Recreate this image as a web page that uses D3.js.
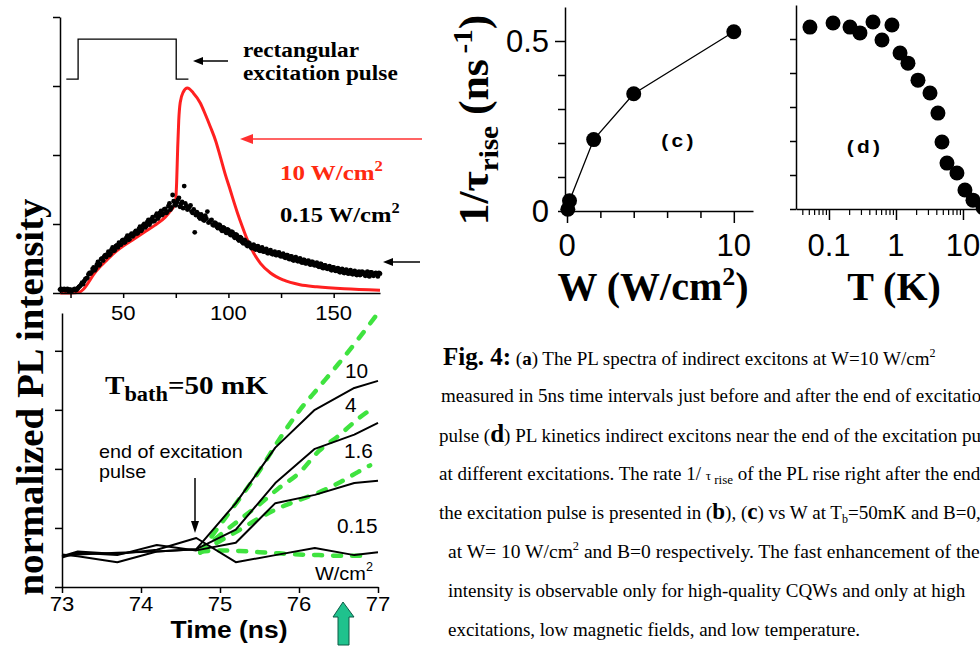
<!DOCTYPE html>
<html><head><meta charset="utf-8">
<script src="https://cdn.jsdelivr.net/npm/d3@7"></script>
<style>body{margin:0;background:#fff}svg{display:block}</style>
</head><body><svg id="chart" width="980" height="650"></svg>
<script>
// ---------- data ----------
// (a) rectangular excitation pulse
const pulseTime  = [23, 28.6, 28.6, 75.2, 75.2, 81];
const pulseLevel = [3.1, 3.1, 3.68, 3.68, 3.1, 3.1];
// (a) 10 W/cm2 PL trace (red)
const redTime = [20, 25, 29, 31, 33, 36, 39, 42, 45, 50, 55, 60, 65, 70, 73, 74.8, 75.4, 75.9, 76.4, 77.1, 78.5, 80.5, 83.3, 86.7, 89, 91.4, 94, 96.2, 98.5, 100.9, 102.6, 104.3, 106.5, 109, 112, 115.2, 120, 126, 134, 142, 155, 172];
const redPL   = [0.0, 0.0, 0.01, 0.05, 0.13, 0.27, 0.38, 0.47, 0.56, 0.68, 0.78, 0.88, 0.98, 1.1, 1.21, 1.3, 1.6, 2.1, 2.5, 2.76, 2.91, 2.97, 2.9, 2.75, 2.59, 2.41, 2.2, 1.97, 1.72, 1.49, 1.32, 1.16, 0.97, 0.77, 0.58, 0.43, 0.29, 0.19, 0.12, 0.09, 0.06, 0.04];
// (a) 0.15 W/cm2 PL trace (black dots), two interleaved read-outs
const dotTime = [20,21,22,23,24,25,26,27,28,29,30,31,32,33,34,35,36,37,38,39,40,41,42,43,44,45,46,47,48,49,50,51,52,53,54,55,56,57,58,59,60,61,62,63,64,65,66,67,68,69,70,71,72,73,74,75,76,77,78,79,80,81,82,83,84,85,86,87,88,89,90,91,92,93,94,95,96,97,98,99,100,101,102,103,104,105,106,107,108,109,110,111,112,113,114,115,116,117,118,119,120,121,122,123,124,125,126,127,128,129,130,131,132,133,134,135,136,137,138,139,140,141,142,143,144,145,146,147,148,149,150,151,152,153,154,155,156,157,158,159,160,161,162,163,164,165,166,167,168,169,170,171,172];
const dotPL = [0.05,0.04,0.06,0.05,0.03,0.05,0.04,0.06,0.05,0.09,0.12,0.13,0.2,0.22,0.29,0.3,0.37,0.36,0.45,0.42,0.5,0.53,0.52,0.6,0.57,0.66,0.62,0.69,0.73,0.7,0.77,0.74,0.83,0.78,0.86,0.84,0.9,0.87,0.96,0.92,1.0,0.97,1.06,1.02,1.1,1.05,1.15,1.11,1.19,1.15,1.22,1.18,1.3,1.24,1.33,1.27,1.35,1.25,1.32,1.55,1.26,1.22,1.27,1.16,0.88,1.17,1.1,1.14,1.06,1.12,1.18,1.03,1.06,0.98,1.01,0.94,0.98,0.9,0.94,0.87,0.91,0.84,0.88,0.8,0.84,0.76,0.8,0.72,0.76,0.68,0.72,0.65,0.7,0.63,0.68,0.61,0.66,0.6,0.64,0.58,0.62,0.56,0.6,0.55,0.59,0.53,0.57,0.51,0.55,0.49,0.53,0.47,0.52,0.46,0.5,0.44,0.48,0.43,0.47,0.41,0.45,0.4,0.44,0.38,0.42,0.36,0.4,0.35,0.39,0.33,0.37,0.32,0.36,0.3,0.35,0.29,0.34,0.28,0.33,0.27,0.32,0.26,0.31,0.27,0.3,0.25,0.31,0.24,0.3,0.25,0.29,0.24,0.28];
const dotTime2 = [20.5,21.5,22.5,23.5,24.5,25.5,26.5,27.5,28.5,29.5,30.5,31.5,32.5,33.5,34.5,35.5,36.5,37.5,38.5,39.5,40.5,41.5,42.5,43.5,44.5,45.5,46.5,47.5,48.5,49.5,50.5,51.5,52.5,53.5,54.5,55.5,56.5,57.5,58.5,59.5,60.5,61.5,62.5,63.5,64.5,65.5,66.5,67.5,68.5,69.5,70.5,71.5,72.5,73.5,74.5,75.5,76.5,77.5,78.5,79.5,80.5,81.5,82.5,83.5,84.5,85.5,86.5,87.5,88.5,89.5,90.5,91.5,92.5,93.5,94.5,95.5,96.5,97.5,98.5,99.5,100.5,101.5,102.5,103.5,104.5,105.5,106.5,107.5,108.5,109.5,110.5,111.5,112.5,113.5,114.5,115.5,116.5,117.5,118.5,119.5,120.5,121.5,122.5,123.5,124.5,125.5,126.5,127.5,128.5,129.5,130.5,131.5,132.5,133.5,134.5,135.5,136.5,137.5,138.5,139.5,140.5,141.5,142.5,143.5,144.5,145.5,146.5,147.5,148.5,149.5,150.5,151.5,152.5,153.5,154.5,155.5,156.5,157.5,158.5,159.5,160.5,161.5,162.5,163.5,164.5,165.5,166.5,167.5,168.5,169.5,170.5,171.5];
const dotPL2 = [0.06,0.05,0.04,0.06,0.05,0.03,0.05,0.04,0.07,0.1,0.15,0.17,0.21,0.27,0.28,0.35,0.33,0.41,0.4,0.49,0.47,0.55,0.56,0.55,0.63,0.61,0.68,0.66,0.7,0.76,0.73,0.8,0.77,0.84,0.82,0.88,0.86,0.93,0.9,0.98,0.95,1.03,0.99,1.07,1.04,1.12,1.08,1.16,1.13,1.21,1.16,1.26,1.21,1.42,1.28,1.31,1.38,1.29,1.23,1.3,1.21,1.25,1.18,1.21,1.13,1.15,1.08,1.11,1.05,1.08,1.02,1.05,0.99,1.02,0.96,0.99,0.92,0.95,0.89,0.92,0.86,0.89,0.82,0.85,0.78,0.81,0.74,0.77,0.7,0.73,0.67,0.69,0.64,0.67,0.62,0.65,0.6,0.63,0.58,0.61,0.57,0.59,0.55,0.58,0.54,0.56,0.52,0.55,0.5,0.53,0.48,0.51,0.47,0.49,0.45,0.48,0.43,0.46,0.42,0.45,0.41,0.43,0.39,0.42,0.37,0.4,0.36,0.38,0.34,0.37,0.33,0.35,0.31,0.34,0.3,0.33,0.29,0.32,0.28,0.31,0.27,0.3,0.26,0.31,0.27,0.29,0.25,0.3,0.26,0.28,0.27,0.29];
const topTicks = [25, 50, 75, 100, 125, 150];
const topLabels = [50, 100, 150];

// (b) kinetics near end of excitation pulse
const kinTime = [73, 73.2, 73.7, 74.2, 74.7, 75.2, 75.7, 76.2, 76.7, 77];
const kin10   = [0.53, 0.55, 0.58, 0.60, 0.64, 1.42, 2.36, 3.0, 3.37, 3.49];
const kin4    = [0.55, 0.52, 0.42, 0.60, 0.64, 0.97, 1.76, 2.34, 2.58, 2.78];
const kin16   = [0.50, 0.58, 0.54, 0.71, 0.62, 0.75, 1.42, 1.56, 1.76, 1.80];
const kin015  = [0.52, 0.60, 0.56, 0.63, 0.83, 0.42, 0.54, 0.66, 0.54, 0.59];
const kinLabels = ["10", "4", "1.6", "0.15"];
const fitTimeLong  = [74.75, 75, 75.25, 75.5, 75.75, 76, 76.25, 76.5, 76.75, 77];
const fitTimeShort = [74.75, 75, 75.25, 75.5, 75.75, 76, 76.25, 76.5, 76.75, 76.9];
const fit10  = [0.60, 1.05, 1.50, 1.97, 2.50, 2.98, 3.38, 3.78, 4.20, 4.64];
const fit4   = [0.60, 0.88, 1.14, 1.40, 1.68, 1.93, 2.30, 2.56, 2.85, 3.0];
const fit16  = [0.58, 0.78, 0.97, 1.17, 1.34, 1.47, 1.60, 1.76, 1.95, 2.06];
const fit015 = [0.60, 0.62, 0.61, 0.59, 0.57, 0.55, 0.54, 0.53, 0.53, 0.53];
const bottomTicks = [73, 74, 75, 76, 77];

// (c) rise rate vs W
const cW    = [0.05, 0.15, 1.6, 4, 10];
const cRate = [0.005, 0.03, 0.21, 0.345, 0.527];
// (d) rise rate vs T
const dT    = [0.052, 0.115, 0.206, 0.29, 0.454, 0.618, 0.871, 1.15, 1.51, 2.13, 3.22, 4.23, 4.86, 5.77, 8.13, 10.7, 14.1, 20];
const dRate = [0.535, 0.547, 0.535, 0.518, 0.55, 0.497, 0.541, 0.459, 0.429, 0.379, 0.341, 0.282, 0.197, 0.135, 0.106, 0.056, 0.026, 0.004];

// ---------- drawing ----------
const svg = d3.select("#chart");
const SERIF = "'Liberation Serif','Times New Roman',serif";
const SANS  = "'Liberation Sans',Arial,sans-serif";

function label(parent, x, y, parts, o = {}) {
  let tf = `translate(${x},${y})`;
  if (o.rot) tf += ` rotate(${o.rot})`;
  tf += ` scale(${o.sx || 1},1)`;
  const t = parent.append("text").attr("transform", tf)
    .attr("font-family", o.ff || SERIF).attr("font-size", o.fs || 16)
    .attr("font-weight", o.fw || "normal").attr("fill", o.fill || "#000")
    .attr("text-anchor", o.anchor || "start");
  if (o.ls) t.attr("letter-spacing", o.ls);
  let cur = 0;
  parts.forEach(p => {
    if (typeof p === "string") p = { t: p };
    const sh = p.shift || 0;
    const ts = t.append("tspan").text(p.t).attr("dy", sh - cur);
    cur = sh;
    if (p.fs) ts.attr("font-size", p.fs);
    if (p.fw) ts.attr("font-weight", p.fw);
    if (p.ff) ts.attr("font-family", p.ff);
    if (p.fill) ts.attr("fill", p.fill);
  });
  return t;
}
function arrowLine(parent, x1, y1, x2, y2, color, head, half, w) {
  const ang = Math.atan2(y2 - y1, x2 - x1);
  const bx = x2 - head * Math.cos(ang), by = y2 - head * Math.sin(ang);
  parent.append("line").attr("x1", x1).attr("y1", y1).attr("x2", bx).attr("y2", by)
    .attr("stroke", color).attr("stroke-width", w);
  const px = -Math.sin(ang) * half, py = Math.cos(ang) * half;
  parent.append("path").attr("d", `M${x2},${y2}L${bx + px},${by + py}L${bx - px},${by - py}Z`).attr("fill", color);
}
function styleAxis(g) {
  g.selectAll("path,line").attr("stroke", "#000").attr("stroke-width", 1.5);
}

// ===== Panel (a): top-left =====
const xA = d3.scaleLinear().domain([20, 172]).range([60, 380]);
const yA = d3.scaleLinear().domain([0, 4]).range([293, 17]);
const gA = svg.append("g");

gA.append("path").datum(d3.range(pulseTime.length))
  .attr("d", d3.line().x(i => xA(pulseTime[i])).y(i => yA(pulseLevel[i])))
  .attr("fill", "none").attr("stroke", "#000").attr("stroke-width", 1.3);

gA.append("path").datum(d3.range(redTime.length))
  .attr("d", d3.line().curve(d3.curveMonotoneX).x(i => xA(redTime[i])).y(i => yA(redPL[i])))
  .attr("fill", "none").attr("stroke", "#ff2020").attr("stroke-width", 3);

[[dotTime, dotPL], [dotTime2, dotPL2]].forEach(([ts, vs], k) => {
  gA.selectAll("circle.dot" + k).data(d3.range(ts.length)).join("circle")
    .attr("class", "dot" + k).attr("cx", i => xA(ts[i])).attr("cy", i => yA(vs[i]))
    .attr("r", 2.4).attr("fill", "#000");
});

const axA = gA.append("g").attr("transform", "translate(0,293)")
  .call(d3.axisBottom(xA).tickValues(topTicks).tickSize(5).tickSizeOuter(0).tickFormat(""));
styleAxis(axA);
const ayA = gA.append("g").attr("transform", "translate(60,0)")
  .call(d3.axisLeft(yA).tickValues([0, 1, 2, 3, 4]).tickSize(7).tickSizeOuter(0).tickFormat(""));
styleAxis(ayA);
topLabels.forEach(v => label(gA, xA(v), 320, [String(v)], { ff: SANS, fs: 21, anchor: "middle", sx: 1.05 }));

label(gA, 243, 57, ["rectangular"], { fs: 22, fw: "bold", sx: 1.06 });
label(gA, 243, 80, ["excitation pulse"], { fs: 22, fw: "bold", sx: 1.06 });
arrowLine(gA, 228, 61, 193, 61, "#000", 10, 4, 1.5);
arrowLine(gA, 422, 139, 240, 139, "#ff3030", 13, 5, 1.6);
label(gA, 280, 180, ["10 W/cm", { t: "2", fs: 14, shift: -9 }], { fs: 21, fw: "bold", fill: "#ff2a10", sx: 1.19 });
label(gA, 280, 222, ["0.15 W/cm", { t: "2", fs: 14, shift: -9 }], { fs: 21, fw: "bold", sx: 1.17 });
arrowLine(gA, 420, 262, 383, 262, "#000", 10, 4, 1.5);

// ===== Panel (b): bottom-left =====
const xB = d3.scaleLinear().domain([73, 77]).range([62, 378]);
const yB = d3.scaleLinear().domain([0, 4.64]).range([587, 313]);
const gB = svg.append("g");
[[fitTimeLong, fit10], [fitTimeShort, fit4], [fitTimeShort, fit16], [fitTimeShort, fit015]].forEach(([ts, vs]) => {
  const ln = d3.line().curve(d3.curveMonotoneX).x(i => xB(ts[i])).y(i => yB(vs[i]));
  gB.append("path").attr("d", ln(d3.range(ts.length)))
    .attr("fill", "none").attr("stroke", "#3fe33f").attr("stroke-width", 4.5)
    .attr("stroke-linecap", "round").attr("stroke-dasharray", "8,11");
});
[kin10, kin4, kin16, kin015].forEach(vs => {
  const ln = d3.line().x(i => xB(kinTime[i])).y(i => yB(vs[i]));
  gB.append("path").attr("d", ln(d3.range(kinTime.length)))
    .attr("fill", "none").attr("stroke", "#000").attr("stroke-width", 2).attr("stroke-linejoin", "round");
});
const axB = gB.append("g").attr("transform", "translate(0,587)")
  .call(d3.axisBottom(xB).tickValues(bottomTicks).tickSize(6).tickSizeOuter(0).tickFormat(""));
styleAxis(axB);
const ayB = gB.append("g").attr("transform", "translate(62,0)")
  .call(d3.axisLeft(yB).tickValues([0, 1, 2, 3, 4]).tickSize(7).tickSizeOuter(0).tickFormat(""));
styleAxis(ayB);
bottomTicks.forEach(v => label(gB, xB(v), 611, [String(v)], { ff: SANS, fs: 21, anchor: "middle", sx: 1.05 }));
label(gB, 229, 638, ["Time (ns)"], { ff: SANS, fs: 24, fw: "bold", anchor: "middle", sx: 1.1 });

label(gB, 105, 394, ["T", { t: "bath", fs: 20, shift: 7 }, { t: "=50 mK", shift: 0 }], { fs: 26, fw: "bold", sx: 1.12 });
label(gB, 99, 458, ["end of excitation"], { ff: SANS, fs: 19, sx: 1.04 });
label(gB, 99, 478, ["pulse"], { ff: SANS, fs: 19, sx: 1.04 });
arrowLine(gB, 195, 478, 195, 533, "#000", 12, 4, 1.5);
const kinLabelPos = [[345, 378], [345, 412], [344, 458], [337, 533]];
kinLabels.forEach((s, i) => label(gB, kinLabelPos[i][0], kinLabelPos[i][1], [s], { ff: SANS, fs: 20, sx: 1.04 }));
label(gB, 315, 580, ["W/cm", { t: "2", fs: 12, shift: -9 }], { ff: SANS, fs: 19, sx: 1.05 });

// teal arrow
const arrowPts = [[343, 602], [354, 617], [349, 617], [349, 645], [338, 645], [338, 617], [333, 617]];
gB.append("path").attr("d", d3.line()(arrowPts) + "Z").attr("fill", "#1fc28d").attr("stroke", "#0d5a45").attr("stroke-width", 1);

// left y label
label(svg, 43, 397, ["normalized PL intensity"], { fs: 37, fw: "bold", rot: -90, anchor: "middle", sx: 1.05 });

// ===== Panel (c) =====
const xC = d3.scaleLinear().domain([-0.12, 11.15]).range([565, 753]);
const yC = d3.scaleLinear().domain([0, 0.6]).range([211, 7]);
const gC = svg.append("g");
const axC = gC.append("g").attr("transform", "translate(0,211)")
  .call(d3.axisBottom(xC).tickValues([2, 4, 6, 8]).tickSize(7).tickSizeOuter(0).tickFormat(""));
styleAxis(axC);
const axC2 = gC.append("g").attr("transform", "translate(0,211)")
  .call(d3.axisBottom(xC).tickValues([0, 10]).tickSize(12).tickSizeOuter(0).tickFormat(""));
styleAxis(axC2); axC2.select(".domain").remove();
const ayC = gC.append("g").attr("transform", "translate(565,0)")
  .call(d3.axisLeft(yC).tickValues([0, 0.1, 0.2, 0.3, 0.4]).tickSize(7).tickSizeOuter(0).tickFormat(""));
styleAxis(ayC);
const ayC2 = gC.append("g").attr("transform", "translate(565,0)")
  .call(d3.axisLeft(yC).tickValues([0.5]).tickSize(10).tickSizeOuter(0).tickFormat(""));
styleAxis(ayC2); ayC2.select(".domain").remove();
gC.append("path").attr("d", d3.line().x(i => xC(cW[i])).y(i => yC(cRate[i]))(d3.range(cW.length)))
  .attr("fill", "none").attr("stroke", "#000").attr("stroke-width", 1.3);
gC.selectAll("circle").data(d3.range(cW.length)).join("circle")
  .attr("cx", i => xC(cW[i])).attr("cy", i => yC(cRate[i])).attr("r", 7.5).attr("fill", "#000");
label(gC, 549, 52, ["0.5"], { ff: SANS, fs: 31, anchor: "end", sx: 1.0 });
label(gC, 549, 222, ["0"], { ff: SANS, fs: 31, anchor: "end", sx: 1.0 });
label(gC, xC(0), 256, ["0"], { ff: SANS, fs: 31, anchor: "middle" });
label(gC, xC(10), 256, ["10"], { ff: SANS, fs: 31, anchor: "middle" });
label(gC, 679, 147, ["(c)"], { ff: SANS, fs: 19, fw: "bold", anchor: "middle", sx: 1.1, ls: 3 });
label(gC, 653, 300, ["W (W/cm", { t: "2", fs: 26, shift: -15 }, { t: ")", shift: 0 }], { fs: 40, fw: "bold", anchor: "middle" });
label(svg, 488, 120, ["1/\u03C4", { t: "rise", fs: 28, shift: 10 }, { t: " (ns", shift: 0 }, { t: "\u2009-1", fs: 28, shift: -16 }, { t: ")", shift: 0 }],
  { fs: 42, fw: "bold", rot: -90, anchor: "middle", sx: 1.04 });

// ===== Panel (d) =====
const xD = d3.scaleLog().domain([0.0322, 35.7]).range([796, 1000]);
const yD = d3.scaleLinear().domain([0, 0.6]).range([209, 5]);
const gD = svg.append("g");
const minorD = [0.04, 0.05, 0.06, 0.07, 0.08, 0.09, 0.2, 0.3, 0.4, 0.5, 0.6, 0.7, 0.8, 0.9, 2, 3, 4, 5, 6, 7, 8, 9, 20, 30];
const axD = gD.append("g").attr("transform", "translate(0,209)")
  .call(d3.axisBottom(xD).tickValues(minorD).tickSize(6).tickSizeOuter(0).tickFormat(""));
styleAxis(axD); axD.selectAll("line").attr("stroke-width", 1.2);
const axD2 = gD.append("g").attr("transform", "translate(0,209)")
  .call(d3.axisBottom(xD).tickValues([0.1, 1, 10]).tickSize(11).tickSizeOuter(0).tickFormat(""));
styleAxis(axD2); axD2.select(".domain").remove();
const ayD = gD.append("g").attr("transform", "translate(796,0)")
  .call(d3.axisLeft(yD).tickValues([0, 0.1, 0.2, 0.3, 0.4, 0.5]).tickSize(6).tickSizeOuter(0).tickFormat(""));
styleAxis(ayD);
gD.selectAll("circle").data(d3.range(dT.length)).join("circle")
  .attr("cx", i => xD(dT[i])).attr("cy", i => yD(dRate[i])).attr("r", 7.5).attr("fill", "#000");
[["0.1", 0.1], ["1", 1], ["10", 10]].forEach(([s, v]) => label(gD, xD(v), 256, [s], { ff: SANS, fs: 31, anchor: "middle" }));
label(gD, 865, 153, ["(d)"], { ff: SANS, fs: 19, fw: "bold", anchor: "middle", sx: 1.1, ls: 3 });
label(gD, 894, 300, ["T (K)"], { fs: 40, fw: "bold", anchor: "middle" });

// ===== Caption =====
const gT = svg.append("g");
const CF = 19;
const B = (t, fs) => ({ t, fw: "bold", fs: fs || CF });
label(gT, 443, 365, [{ t: "Fig. 4:", fw: "bold", fs: 25 }, " (", B("a"), ") The PL spectra of indirect excitons at W=10 W/cm", { t: "2", fs: 12, shift: -8 }], { fs: CF });
label(gT, 441, 402, ["measured in 5ns time intervals just before and after the end of excitation"], { fs: CF });
label(gT, 439, 442, ["pulse (", B("d", 25), ") PL kinetics indirect excitons near the end of the excitation pulse"], { fs: CF });
label(gT, 439, 480, ["at different excitations. The rate 1/ ", { t: "\u03C4", fs: 13 }, { t: " rise", fs: 13, shift: 4 }, { t: " of the PL rise right after the end", shift: 0 }], { fs: CF });
label(gT, 439, 519, ["the excitation pulse is presented in (", B("b", 23), "), (", B("c", 23), ") vs W at T", { t: "b", fs: 12, shift: 4 }, { t: "=50mK and B=0,", shift: 0 }], { fs: CF });
label(gT, 448, 558, ["at W= 10 W/cm", { t: "2", fs: 12, shift: -8 }, { t: " and B=0 respectively. The fast enhancement  of the PL", shift: 0 }], { fs: CF, sx: 1.03 });
label(gT, 448, 597, ["intensity is observable only for high-quality CQWs and only at high"], { fs: CF });
label(gT, 448, 636, ["excitations, low magnetic fields, and low temperature."], { fs: CF });
</script>
</body></html>
